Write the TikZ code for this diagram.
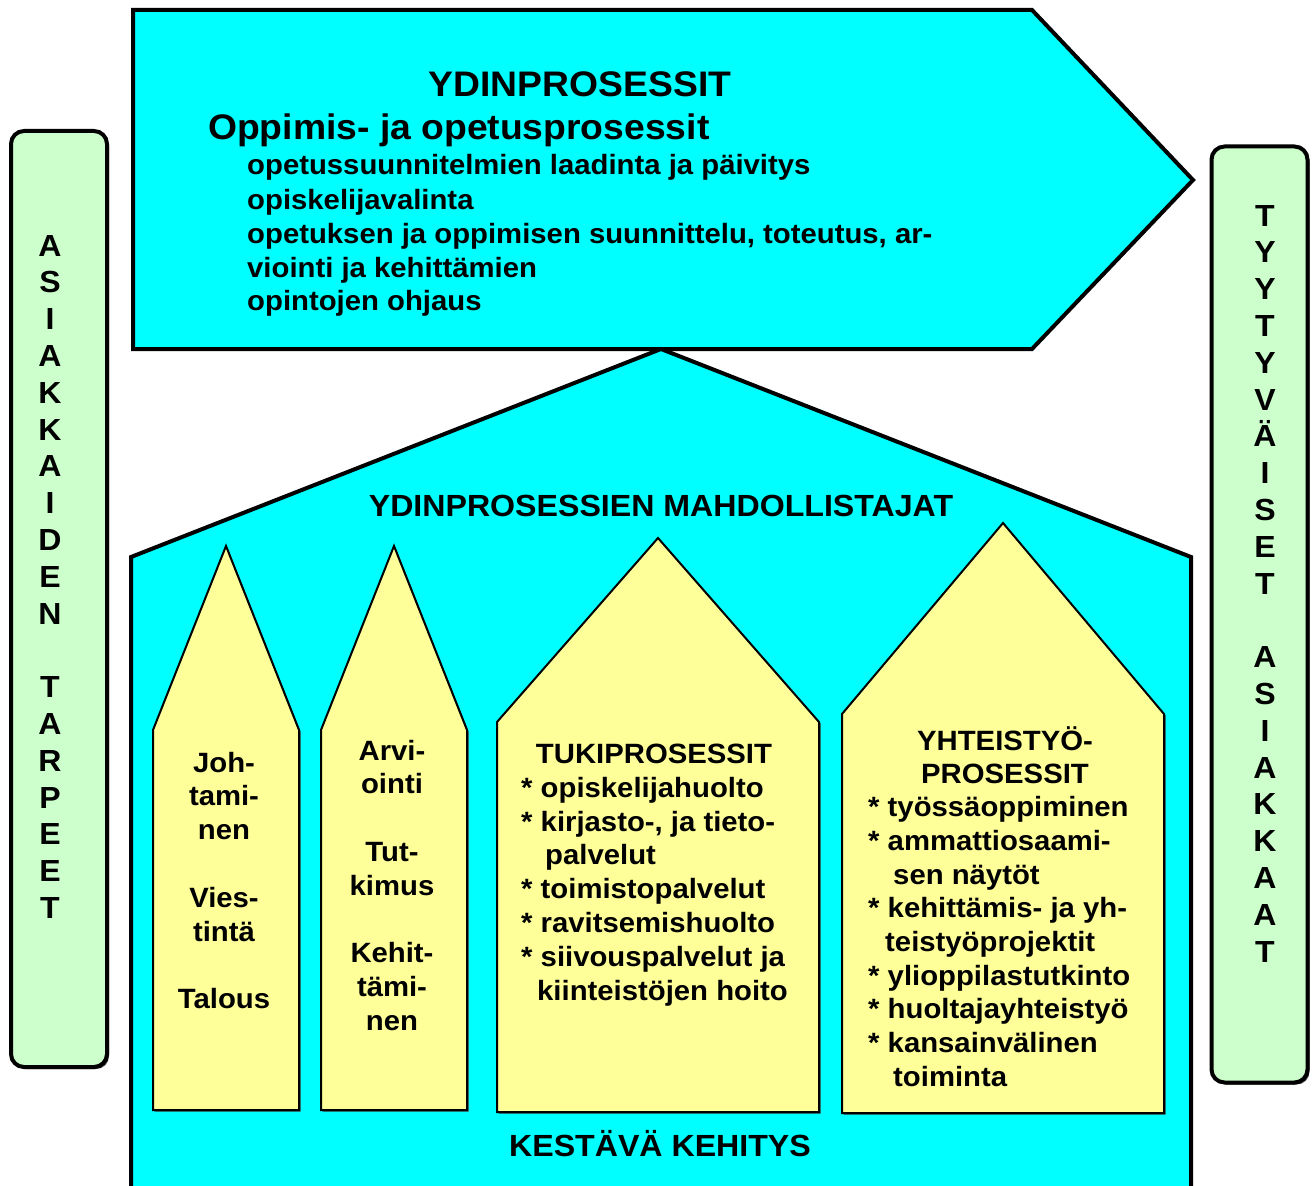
\documentclass[tikz,border=0pt]{standalone}
\usepackage{fontspec}
\setmainfont{Liberation Sans}[FakeStretch=1.05]
\definecolor{cyanfill}{HTML}{00FFFF}
\definecolor{yelfill}{HTML}{FFFF99}
\definecolor{grnfill}{HTML}{CCFFCC}
\tikzset{
  txt/.style={inner sep=0pt, font=\bfseries\fontsize{27.9}{33.8}\selectfont},
  headtxt/.style={inner sep=0pt, font=\bfseries\fontsize{30.6}{36}\selectfont},
  bigtxt/.style={inner sep=0pt, font=\bfseries\fontsize{35.5}{40}\selectfont},
  sidetxt/.style={inner sep=0pt, anchor=base, font=\bfseries\fontsize{30.5}{36}\selectfont},
  cyanshape/.style={fill=cyanfill, draw=black, line width=4pt, line join=miter},
  yel/.style={fill=yelfill, draw=black, line width=2pt, line join=miter},
  greenbox/.style={fill=grnfill, draw=black, line width=4pt, rounded corners=13pt,
     minimum width=96pt, minimum height=936pt, inner sep=0pt},
  gshadow/.style={fill=black!75, rounded corners=13pt, minimum width=96pt,
     minimum height=936pt, inner sep=0pt}
}
\newcommand\yellowhouse[6]{%
  \fill[black!75,shift={(1.5,1.5)}] (#1,#6) -- (#1,#5) -- (#3,#4) -- (#2,#5) -- (#2,#6) -- cycle;
  \draw[yel] (#1,#6) -- (#1,#5) -- (#3,#4) -- (#2,#5) -- (#2,#6) -- cycle;}
\begin{document}
\begin{tikzpicture}[x=1pt,y=-1pt]
\useasboundingbox (0,0) rectangle (1316,1185);
\path[clip] (0,0) rectangle (1316,1185);
\fill[white] (0,0) rectangle (1316,1185);

% side boxes
\node[gshadow] (lshadow) at (61,601) {};
\node[greenbox] (leftbox) at (59,599) {};
\node[gshadow] (rshadow) at (1261.5,616.5) {};
\node[greenbox] (rightbox) at (1259.5,614.5) {};

% top arrow
\draw[cyanshape] (133,10) -- (1032,10) -- (1193,180) -- (1032,349) -- (133,349) -- cycle;
% house
\draw[cyanshape] (131,1200) -- (131,557) -- (661,349) -- (1191,557) -- (1191,1200);

% yellow houses
\yellowhouse{153}{299}{226}{546}{730}{1110}
\yellowhouse{321}{467}{394}{546}{730}{1110}
\yellowhouse{497}{819}{658}{538}{722}{1112}
\yellowhouse{842}{1164}{1003}{523}{714}{1113}

% top texts
\node[bigtxt, anchor=base] (ydin) at (580,97) {YDINPROSESSIT};
\node[bigtxt, anchor=base west] (oppi) at (208,140) {Oppimis- ja opetusprosessit};
\node[txt, anchor=base west] (c1) at (247,175) {opetussuunnitelmien laadinta ja päivitys};
\node[txt, anchor=base west] (c2) at (247,209) {opiskelijavalinta};
\node[txt, anchor=base west] (c3) at (247,243) {opetuksen ja oppimisen suunnittelu, toteutus, ar-};
\node[txt, anchor=base west] (c4) at (247,277) {viointi ja kehittämien};
\node[txt, anchor=base west] (c5) at (247,310) {opintojen ohjaus};

\node[headtxt, anchor=base] (mahd) at (661,516) {YDINPROSESSIEN MAHDOLLISTAJAT};
\node[headtxt, anchor=base] (kest) at (660,1156) {KESTÄVÄ KEHITYS};

% shape 1
\node[txt, anchor=base] (a1) at (224,772) {Joh-};
\node[txt, anchor=base] (a2) at (224,805.8) {tami-};
\node[txt, anchor=base] (a3) at (224,839.6) {nen};
\node[txt, anchor=base] (a4) at (224,907.2) {Vies-};
\node[txt, anchor=base] (a5) at (224,941) {tintä};
\node[txt, anchor=base] (a6) at (224,1008.6) {Talous};

% shape 2
\node[txt, anchor=base] (b1) at (392,760) {Arvi-};
\node[txt, anchor=base] (b2) at (392,793.8) {ointi};
\node[txt, anchor=base] (b3) at (392,861.4) {Tut-};
\node[txt, anchor=base] (b4) at (392,895.2) {kimus};
\node[txt, anchor=base] (b5) at (392,962.8) {Kehit-};
\node[txt, anchor=base] (b6) at (392,996.6) {tämi-};
\node[txt, anchor=base] (b7) at (392,1030.4) {nen};

% shape 3
\node[txt, anchor=base] (t0) at (654,763) {TUKIPROSESSIT};
\node[txt, anchor=base west] (t1) at (521,797) {* opiskelijahuolto};
\node[txt, anchor=base west] (t2) at (521,831) {* kirjasto-, ja tieto-};
\node[txt, anchor=base west] (t3) at (545,864) {palvelut};
\node[txt, anchor=base west] (t4) at (521,898) {* toimistopalvelut};
\node[txt, anchor=base west] (t5) at (521,932) {* ravitsemishuolto};
\node[txt, anchor=base west] (t6) at (521,966) {* siivouspalvelut ja};
\node[txt, anchor=base west] (t7) at (537,1000) {kiinteistöjen hoito};

% shape 4
\node[txt, anchor=base] (y0) at (1005,750) {YHTEISTYÖ-};
\node[txt, anchor=base] (y1) at (1005,783) {PROSESSIT};
\node[txt, anchor=base west] (y2) at (868,816) {* työssäoppiminen};
\node[txt, anchor=base west] (y3) at (868,850) {* ammattiosaami-};
\node[txt, anchor=base west] (y4) at (893,884) {sen näytöt};
\node[txt, anchor=base west] (y5) at (868,917) {* kehittämis- ja yh-};
\node[txt, anchor=base west] (y6) at (885,951) {teistyöprojektit};
\node[txt, anchor=base west] (y7) at (868,985) {* ylioppilastutkinto};
\node[txt, anchor=base west] (y8) at (868,1018) {* huoltajayhteistyö};
\node[txt, anchor=base west] (y9) at (868,1052) {* kansainvälinen};
\node[txt, anchor=base west] (y10) at (893,1086) {toiminta};

% side letters
\foreach \l [count=\i from 0] in {A,S,I,A,K,K,A,I,D,E,N}
  \node[sidetxt] (la\i) at (50,{256+36.8*\i}) {\l};
\foreach \l [count=\i from 0] in {T,A,R,P,E,E,T}
  \node[sidetxt] (lb\i) at (50,{256+36.8*(12+\i)}) {\l};
\foreach \l [count=\i from 0] in {T,Y,Y,T,Y,V,Ä,I,S,E,T}
  \node[sidetxt] (ra\i) at (1265,{226+36.8*\i}) {\l};
\foreach \l [count=\i from 0] in {A,S,I,A,K,K,A,A,T}
  \node[sidetxt] (rb\i) at (1265,{226+36.8*(12+\i)}) {\l};
\end{tikzpicture}
\end{document}
